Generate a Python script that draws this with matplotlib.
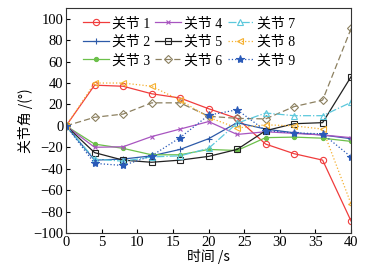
import matplotlib
matplotlib.use("Agg")
import matplotlib.pyplot as plt

plt.rcParams['font.family'] = ['Liberation Serif', 'Noto Sans CJK SC', 'DejaVu Sans']
plt.rcParams['axes.unicode_minus'] = True

time = [0, 4, 8, 12, 16, 20, 24, 28, 32, 36, 40]
labels = ['关节 1', '关节 2', '关节 3', '关节 4', '关节 5', '关节 6', '关节 7', '关节 8', '关节 9']
j1 = [0, 38, 37, 30, 26, 16, 7, -17, -26, -32, -89]
j2 = [0, -32, -31, -28, -22, -12, 3, -3, -6.5, -8.5, -12]
j3 = [0, -17, -21, -27, -27, -22, -23, -11, -10.5, -11.5, -14.5]
j4 = [0, -20, -19.5, -10, -3, 4, -8, -5.5, -7, -8.5, -11]
j5 = [0, -25, -32, -34, -32, -28.5, -22, -4.5, 2, 3, 46]
j6 = [0, 8, 11, 21.5, 21.5, 9, 7, 6.5, 18, 24, 91]
j7 = [0, -31, -33, -29, -28, -21, 2.5, 12, 9.5, 9.5, 22]
j8 = [0, 40, 40, 37, 24, 8, -2, 1, 0, -3, -73]
j9 = [0, -35, -37, -28, -11, 10, 15, -4.5, -6.5, -7.5, -29]
series = [j1, j2, j3, j4, j5, j6, j7, j8, j9]
xticks = [0, 5, 10, 15, 20, 25, 30, 35, 40]
yticks = [-100, -80, -60, -40, -20, 0, 20, 40, 60, 80, 100]

styles = [
    dict(color='#f03c3c', ls='-', marker='o', mfc='none'),
    dict(color='#2d5aa8', ls='-', marker='+', mfc='none'),
    dict(color='#6cc04a', ls='-', marker='o', mfc='#6cc04a', ms=3),
    dict(color='#a855c0', ls='-', marker='x', mfc='none', ms=3),
    dict(color='#222222', ls='-', marker='s', mfc='none'),
    dict(color='#8c8060', ls=(0, (5, 2.5)), marker='D', mfc='none', ms=4),
    dict(color='#5cc8dc', ls='-.', marker='^', mfc='none'),
    dict(color='#f5b030', ls=':', marker='<', mfc='none'),
    dict(color='#2a5ab8', ls=':', marker='*', mfc='#2a5ab8', ms=6),
]

fig = plt.figure(figsize=(3.65, 2.69), dpi=100)
ax = fig.add_axes([0.181, 0.134, 0.781, 0.836])
for lab, ys, st in zip(labels, series, styles):
    kw = dict(lw=0.9, ms=4.5, mew=0.8)
    kw.update(st)
    ax.plot(time, ys, label=lab, **kw)

ax.set_xlim(0, 40)
ax.set_ylim(-100, 110)
ax.set_xticks(xticks)
ax.set_yticks(yticks)
ax.tick_params(direction='in', length=3, labelsize=10.5, pad=2)
for s in ax.spines.values():
    s.set_color('#333333')
    s.set_linewidth(0.8)
ax.set_xlabel('时间 /s', fontsize=10, labelpad=0,
              family=['Noto Sans CJK SC', 'Liberation Serif'])
ax.set_ylabel('关节角 /(°)', fontsize=10, labelpad=0,
              family=['Noto Sans CJK SC', 'Liberation Serif'])
leg = ax.legend(ncol=3, loc='upper left', frameon=False,
                handlelength=1.85, handletextpad=0.25, columnspacing=0.35,
                labelspacing=0.38, borderaxespad=0.0,
                bbox_to_anchor=(0.04, 0.985),
                prop={'family': ['Liberation Serif', 'Noto Sans CJK SC'], 'size': 10})
fig.savefig('out.png', dpi=100)
